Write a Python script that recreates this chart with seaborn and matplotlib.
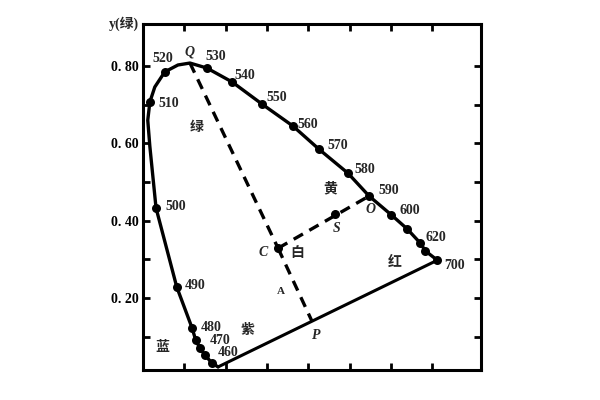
"""CIE 色度图示意：光谱轨迹、紫线及主波长作图。"""

import matplotlib
matplotlib.use("Agg")
import matplotlib.pyplot as plt
import numpy as np
import pandas as pd
import seaborn as sns

# 光谱轨迹上标记的点（波长 nm, x, y）
WAVELENGTHS = [455, 460, 465, 470, 480, 490, 500, 510, 520, 530, 540,
               550, 560, 570, 580, 590, 600, 610, 620, 630, 700]
MARK_X = [0.167, 0.150, 0.138, 0.128, 0.119, 0.082, 0.032, 0.017, 0.053, 0.155, 0.216,
          0.288, 0.363, 0.426, 0.496, 0.547, 0.601, 0.639, 0.671, 0.683, 0.712]
MARK_Y = [0.032, 0.053, 0.071, 0.091, 0.123, 0.229, 0.433, 0.707, 0.785, 0.795, 0.759,
          0.702, 0.645, 0.585, 0.523, 0.464, 0.415, 0.379, 0.342, 0.322, 0.298]

# 光谱轨迹曲线的拐点（含未标记的点）
LOCUS_X = [0.182, 0.167, 0.150, 0.138, 0.128, 0.119, 0.082, 0.032, 0.017, 0.012, 0.017,
           0.029, 0.053, 0.085, 0.114, 0.155, 0.216, 0.288, 0.363, 0.426, 0.496,
           0.547, 0.601, 0.639, 0.671, 0.683, 0.712]
LOCUS_Y = [0.022, 0.032, 0.053, 0.071, 0.091, 0.123, 0.229, 0.433, 0.593, 0.660, 0.707,
           0.746, 0.785, 0.803, 0.808, 0.795, 0.759, 0.702, 0.645, 0.585, 0.523,
           0.464, 0.415, 0.379, 0.342, 0.322, 0.298]

# 作图用的点 Q, C, S, O, P
POINT_NAMES = ["Q", "C", "S", "O", "P"]
POINT_X = [0.114, 0.327, 0.465, 0.547, 0.409]
POINT_Y = [0.808, 0.329, 0.417, 0.464, 0.140]

# 颜色区域文字
REGION_TEXT = ["绿", "黄", "白", "红", "紫", "蓝"]
REGION_X = [0.131, 0.453, 0.373, 0.610, 0.254, 0.048]
REGION_Y = [0.642, 0.485, 0.316, 0.293, 0.117, 0.073]

Y_TICKS = [0.2, 0.4, 0.6, 0.8]
Y_TICK_LABELS = ["0. 20", "0. 40", "0. 60", "0. 80"]

# 标签偏移量（points）
WL_LABEL_OFFSET = {
    520: (-9, 10), 530: (-1, 8), 540: (2, 5), 550: (3, 5), 560: (3, 1),
    570: (6, 3), 580: (5, 3), 590: (7, 4), 600: (6, 3), 620: (4, 4),
    700: (5, -4), 510: (6, -1), 500: (7, 1), 490: (6, 1), 480: (6, 0),
    470: (10, 0), 460: (9, 2),
}
PT_LABEL_OFFSET = {"Q": (0, 8), "C": (-11, -3), "S": (1, -10), "O": (1, -10), "P": (3, -10)}

SERIF = ["Liberation Serif", "Noto Sans CJK SC"]

sns.set_theme(style="white")
plt.rcParams.update({
    "font.family": SERIF,
    "axes.unicode_minus": False,
})

fig = plt.figure(figsize=(6, 4), dpi=100)
ax = fig.add_axes([0.238, 0.075, 0.564, 0.865])

locus = pd.DataFrame({"x": LOCUS_X, "y": LOCUS_Y, "i": np.arange(len(LOCUS_X))})
sns.lineplot(data=locus, x="x", y="y", sort=False, estimator=None,
             color="black", lw=2.4, ax=ax)

# 紫线：光谱两端连线
purple = pd.DataFrame({"x": [LOCUS_X[0], LOCUS_X[-1]], "y": [LOCUS_Y[0], LOCUS_Y[-1]]})
sns.lineplot(data=purple, x="x", y="y", sort=False, estimator=None,
             color="black", lw=2.2, ax=ax)

marks = pd.DataFrame({"wl": WAVELENGTHS, "x": MARK_X, "y": MARK_Y})
sns.scatterplot(data=marks, x="x", y="y", color="black", s=42,
                edgecolor="black", linewidth=0, ax=ax, zorder=3)

pts = dict(zip(POINT_NAMES, zip(POINT_X, POINT_Y)))
# 虚线 Q-C-P 与 C-S-O
for a, b in [("Q", "C"), ("C", "P"), ("C", "O")]:
    ax.plot([pts[a][0], pts[b][0]], [pts[a][1], pts[b][1]],
            color="black", lw=2.4, dashes=(3.2, 2.2))
ax.scatter([pts["C"][0], pts["S"][0]], [pts["C"][1], pts["S"][1]],
           color="black", s=30, zorder=3)

for wl, x, y in zip(WAVELENGTHS, MARK_X, MARK_Y):
    if wl in WL_LABEL_OFFSET:
        ax.annotate(str(wl), (x, y), xytext=WL_LABEL_OFFSET[wl], textcoords="offset points",
                    ha="left", va="center", fontsize=10, fontweight="bold")

for name in POINT_NAMES:
    ax.annotate(name, pts[name], xytext=PT_LABEL_OFFSET[name], textcoords="offset points",
                ha="center", va="center", fontsize=10, fontweight="bold", fontstyle="italic")
ax.annotate("A", (pts["C"][0], pts["C"][1]), xytext=(2, -31), textcoords="offset points",
            ha="center", va="center", fontsize=8, fontweight="bold")

for t, x, y in zip(REGION_TEXT, REGION_X, REGION_Y):
    ax.text(x, y, t, ha="center", va="center", fontsize=10, fontweight="bold",
            family=["Noto Sans CJK SC"])

ax.set_xlim(0, 0.818)
ax.set_ylim(0.014, 0.909)
ax.set_xticks(np.arange(0.1, 0.75, 0.1))
ax.set_xticklabels([])
ax.set_yticks(np.arange(0.1, 0.85, 0.1))
ax.set_yticklabels([Y_TICK_LABELS[Y_TICKS.index(round(v, 1))] if round(v, 1) in Y_TICKS else ""
                    for v in np.arange(0.1, 0.85, 0.1)])
ax.tick_params(direction="in", length=5, width=2, top=True, right=True,
               left=True, bottom=True, labelsize=10, pad=3, colors="black")
for lab in ax.get_yticklabels():
    lab.set_fontweight("bold")
for sp in ax.spines.values():
    sp.set_linewidth(2.2)
    sp.set_color("black")
ax.set_xlabel("")
ax.set_ylabel("")
ax.text(-0.057, 1.0, "y(绿)", transform=ax.transAxes, ha="center", va="center",
        fontsize=10, fontweight="bold", family=SERIF)

fig.savefig("out.png", dpi=100)
